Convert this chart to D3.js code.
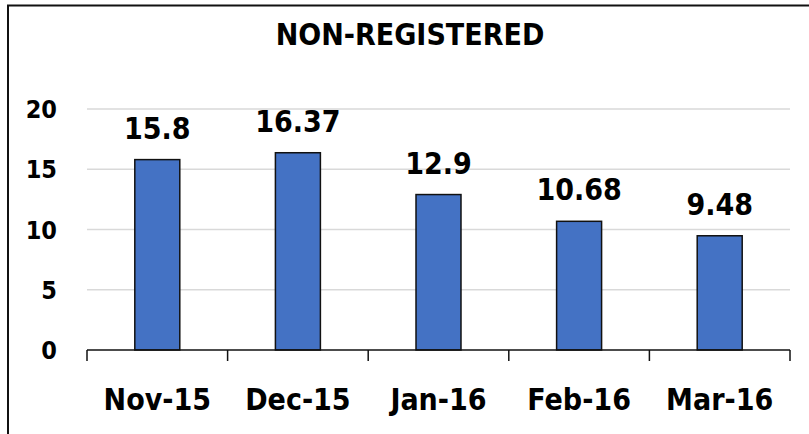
<!DOCTYPE html>
<html>
<head>
<meta charset="utf-8">
<script src="https://cdn.jsdelivr.net/npm/d3@7"></script>
<style>
  body { margin: 0; background: #fff; }
  svg text { font-family: "DejaVu Sans Condensed", "DejaVu Sans", sans-serif; font-weight: bold; fill: #000; }
</style>
</head>
<body>
<div id="chart"></div>
<script>
const months = ['Nov-15', 'Dec-15', 'Jan-16', 'Feb-16', 'Mar-16']
const values = [15.8, 16.37, 12.9, 10.68, 9.48]
const yTicks = [0, 5, 10, 15, 20]
const title = 'NON-REGISTERED'

const width = 809, height = 434
const plot = { left: 87, right: 790, top: 109, bottom: 350 }

const svg = d3.select('#chart').append('svg')
    .attr('width', width)
    .attr('height', height)

// outer chart border (runs off the right and bottom edge)
svg.append('rect')
    .attr('x', 8).attr('y', 5.5)
    .attr('width', 820).attr('height', 450)
    .attr('fill', '#fff')
    .attr('stroke', '#111')
    .attr('stroke-width', 2)

svg.append('text')
    .attr('x', 410).attr('y', 45)
    .attr('text-anchor', 'middle')
    .style('font-size', '30px')
    .text(title)

const x = d3.scaleBand()
    .domain(months)
    .range([plot.left, plot.right])

const y = d3.scaleLinear()
    .domain([0, 20])
    .range([plot.bottom, plot.top])

// gridlines
svg.append('g')
    .selectAll('line')
    .data(yTicks.filter(d => d > 0))
    .enter().append('line')
    .attr('x1', plot.left).attr('x2', plot.right)
    .attr('y1', d => y(d)).attr('y2', d => y(d))
    .attr('stroke', '#d9d9d9')
    .attr('stroke-width', 1.5)

// y labels
svg.append('g')
    .selectAll('text')
    .data(yTicks)
    .enter().append('text')
    .attr('x', 57)
    .attr('y', d => y(d))
    .attr('dy', '0.36em')
    .attr('text-anchor', 'end')
    .style('font-size', '25px')
    .text(d => d)

// bars
const barW = x.bandwidth() * 0.32
svg.append('g')
    .selectAll('rect')
    .data(values)
    .enter().append('rect')
    .attr('x', (d, i) => x(months[i]) + (x.bandwidth() - barW) / 2)
    .attr('y', d => y(d))
    .attr('width', barW)
    .attr('height', d => y(0) - y(d))
    .attr('fill', '#4472c4')
    .attr('stroke', '#111')
    .attr('stroke-width', 1.5)

// value labels
svg.append('g')
    .selectAll('text')
    .data(values)
    .enter().append('text')
    .attr('x', (d, i) => x(months[i]) + x.bandwidth() / 2)
    .attr('y', d => y(d) - 21)
    .attr('text-anchor', 'middle')
    .style('font-size', '30px')
    .text(d => d)

// x axis line and band-edge ticks
const axis = svg.append('g')
axis.append('line')
    .attr('x1', plot.left).attr('x2', plot.right)
    .attr('y1', y(0)).attr('y2', y(0))
    .attr('stroke', '#111')
    .attr('stroke-width', 1.5)

const edges = months.map(m => x(m)).concat([plot.right])
axis.selectAll('.tick')
    .data(edges)
    .enter().append('line')
    .attr('class', 'tick')
    .attr('x1', d => d).attr('x2', d => d)
    .attr('y1', y(0)).attr('y2', y(0) + 11)
    .attr('stroke', '#111')
    .attr('stroke-width', 1.5)

axis.selectAll('text')
    .data(months)
    .enter().append('text')
    .attr('x', d => x(d) + x.bandwidth() / 2)
    .attr('y', 410)
    .attr('text-anchor', 'middle')
    .style('font-size', '30px')
    .text(d => d)
</script>
</body>
</html>
